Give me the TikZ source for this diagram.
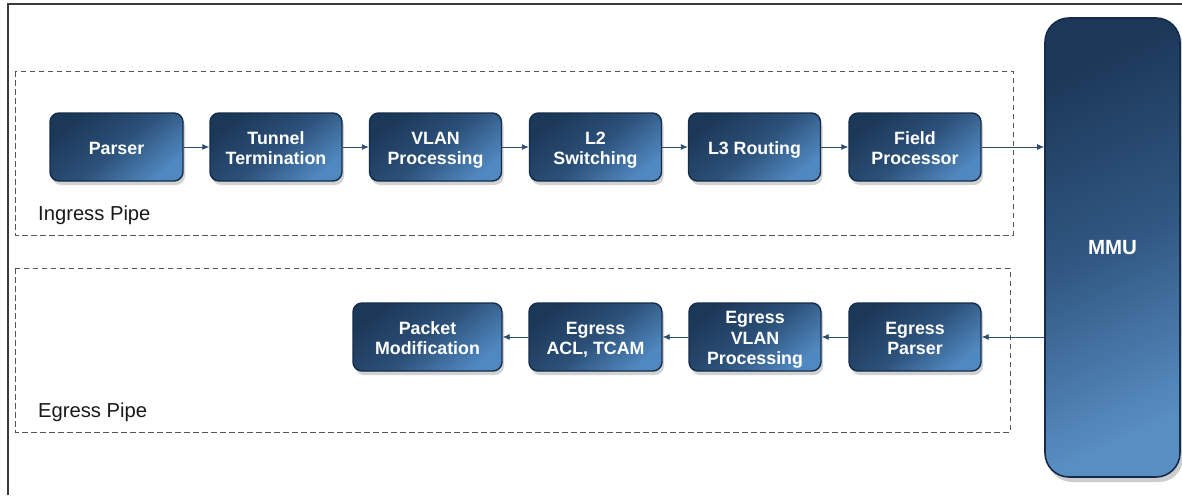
\documentclass[tikz,border=0pt]{standalone}
\usepackage{fontspec}
\setmainfont{Liberation Sans}
\usetikzlibrary{shadows,arrows.meta}

\definecolor{boxdark}{HTML}{1C3859}
\definecolor{boxlight}{HTML}{5088C0}
\definecolor{boxedge}{HTML}{142C4A}
\definecolor{flow}{HTML}{2C4D72}
\definecolor{pipeline}{HTML}{555555}
\definecolor{frame}{HTML}{3A3A3A}

\tikzset{
  stage/.style={
    draw=boxedge, line width=1.4pt, rounded corners=9pt,
    top color=boxdark, bottom color=boxlight, middle color=boxdark!70!boxlight,
    shading angle=40,
    minimum width=132pt, minimum height=68pt, inner sep=2pt,
    align=center, text=white,
    font=\bfseries\fontsize{17.8}{20.5}\selectfont,
    text height=35.2pt, text depth=0pt,
    drop shadow={shadow xshift=2pt, shadow yshift=-4pt, opacity=0.25, fill=black!70}
  },
  oneline/.style={text height=14.7pt},
  threeline/.style={text height=55.7pt},
  memory/.style={
    draw=boxedge, line width=1.6pt, rounded corners=24pt,
    top color=boxdark, bottom color=boxlight!95!white, middle color=boxdark!60!boxlight,
    shading angle=25,
    minimum width=135pt, minimum height=459pt, inner sep=0pt,
    text=white, font=\bfseries\fontsize{20.5}{24}\selectfont,
    drop shadow={shadow xshift=3pt, shadow yshift=-5pt, opacity=0.28, fill=black!70}
  },
  pipe/.style={draw=pipeline, line width=0.9pt, dash pattern=on 5.5pt off 3.5pt},
  flowline/.style={draw=flow, line width=0.9pt, -{Latex[length=7pt,width=6pt]}},
  pipelabel/.style={anchor=base west, inner sep=0pt, font=\fontsize{20.2}{23}\selectfont, text=black!90}
}

\begin{document}
\begin{tikzpicture}[x=1pt,y=-1pt]
  \useasboundingbox (0,0) rectangle (1182,495);
  \fill[white] (0,0) rectangle (1182,495);

  % outer frame (top and left edges)
  \draw[frame, line width=2pt] (7.5,495) -- (7.5,4.5) -- (1182,4.5);

  % pipeline outlines
  \draw[pipe] (15,71) rectangle (1013,235);
  \draw[pipe] (15,268) rectangle (1010,432);
  \node[pipelabel] (inglabel) at (38,220) {Ingress Pipe};
  \node[pipelabel] (eglabel) at (38,417) {Egress Pipe};

  % memory management unit
  \node[memory] (mmu) at (1112.5,247.5) {MMU};

  % ingress stages
  \node[stage, oneline, minimum width=133pt] (parser) at (116.5,147) {Parser};
  \node[stage] (tunnel) at (276,147) {Tunnel\\Termination};
  \node[stage] (vlan) at (435.5,147) {VLAN\\Processing};
  \node[stage] (l2) at (595.5,147) {L2\\Switching};
  \node[stage, oneline] (l3) at (754.5,147) {L3 Routing};
  \node[stage] (field) at (915,147) {Field\\Processor};

  % egress stages
  \node[stage] (eparser) at (915,337) {Egress\\Parser};
  \node[stage, threeline] (evlan) at (755,337) {Egress\\VLAN\\Processing};
  \node[stage, minimum width=133pt] (eacl) at (595.5,337) {Egress\\ACL, TCAM};
  \node[stage, minimum width=149pt] (pktmod) at (427.5,337) {Packet\\Modification};

  % ingress flow
  \draw[flowline] (parser.east) -- (tunnel.west);
  \draw[flowline] (tunnel.east) -- (vlan.west);
  \draw[flowline] (vlan.east) -- (l2.west);
  \draw[flowline] (l2.east) -- (l3.west);
  \draw[flowline] (l3.east) -- (field.west);
  \draw[flowline] (field.east) -- (field.east -| mmu.west);

  % egress flow
  \draw[flowline] (eparser.east -| mmu.west) -- (eparser.east);
  \draw[flowline] (eparser.west) -- (evlan.east);
  \draw[flowline] (evlan.west) -- (eacl.east);
  \draw[flowline] (eacl.west) -- (pktmod.east);
\end{tikzpicture}
\end{document}
